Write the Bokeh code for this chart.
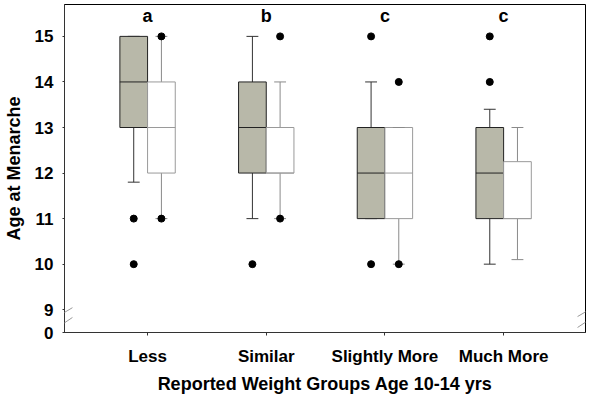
from bokeh.plotting import figure
from bokeh.models import Range1d, FixedTicker, Arrow, ColumnDataSource
from bokeh.core.properties import value
from bokeh.embed import file_html
from bokeh.resources import INLINE

# ---- data ----
groups = ["Less", "Similar", "Slightly More", "Much More"]
letters = ["a", "b", "c", "c"]

# grey (left) boxes
g_q1 = [13, 12, 11, 11]
g_med = [14, 13, 12, 12]
g_q3 = [15, 14, 13, 13]
g_lo = [11.8, 11, 11, 10]
g_hi = [15, 15, 14, 13.4]
g_out_group = [0, 0, 1, 2, 2, 3, 3]
g_out_val = [11, 10, 10, 15, 10, 15, 14]

# white (right) boxes
w_q1 = [12, 12, 11, 11]
w_med = [13, 12, 12, 11]
w_q3 = [14, 13, 13, 12.25]
w_lo = [11, 11, 10, 10.1]
w_hi = [15, 14, 13, 13]
w_out_group = [0, 0, 1, 1, 2, 2]
w_out_val = [15, 11, 15, 11, 14, 10]

ytick_values = [8.5, 9, 10, 11, 12, 13, 14, 15]
ytick_labels = ["0", "9", "10", "11", "12", "13", "14", "15"]

FONT = "Liberation Sans"
BOX_W = 0.2333
OFF = BOX_W / 2
CAP = 0.1

p = figure(width=588, height=396, output_backend="svg", toolbar_location=None,
           x_range=Range1d(0.3, 4.69), y_range=Range1d(8.5, 15.70),
           min_border_left=59, min_border_right=3, min_border_top=4, min_border_bottom=61)
p.grid.visible = False
p.outline_line_color = "black"
p.outline_line_width = 1
p.background_fill_color = "white"

xs = [i + 1 for i in range(len(groups))]


def draw(xc, q1, med, q3, lo, hi, ogrp, oval, fill, line, wline):
    src = ColumnDataSource(dict(x=xc, q1=q1, med=med, q3=q3, lo=lo, hi=hi,
                                l=[x - OFF for x in xc], r=[x + OFF for x in xc],
                                cl=[x - CAP / 2 for x in xc], cr=[x + CAP / 2 for x in xc]))
    # whiskers
    p.segment(x0="x", y0="q3", x1="x", y1="hi", source=src, line_color=wline, line_width=1)
    p.segment(x0="x", y0="q1", x1="x", y1="lo", source=src, line_color=wline, line_width=1)
    # box
    p.quad(left="l", right="r", bottom="q1", top="q3", source=src,
           fill_color=fill, line_color=line, line_width=1)
    # median
    p.segment(x0="l", y0="med", x1="r", y1="med", source=src, line_color=line, line_width=1)
    # caps
    p.segment(x0="cl", y0="hi", x1="cr", y1="hi", source=src, line_color=wline, line_width=1)
    p.segment(x0="cl", y0="lo", x1="cr", y1="lo", source=src, line_color=wline, line_width=1)
    # outliers
    p.scatter(x=[xc[g] for g in ogrp], y=oval, size=7, color="black")


draw([x - OFF for x in xs], g_q1, g_med, g_q3, g_lo, g_hi, g_out_group, g_out_val,
     "#b8b8a9", "#222222", "#333333")
draw([x + OFF for x in xs], w_q1, w_med, w_q3, w_lo, w_hi, w_out_group, w_out_val,
     "white", "#9a9a9a", "#8a8a8a")

# significance letters
p.text(x=xs, y=[15.44] * len(xs), text=letters, text_align="center", text_baseline="middle",
       text_font=value(FONT), text_font_style="bold", text_font_size="18px", text_color="black")

# axes
p.xaxis.ticker = FixedTicker(ticks=xs)
p.xaxis.major_label_overrides = {x: g for x, g in zip(xs, groups)}
p.yaxis.ticker = FixedTicker(ticks=ytick_values)
p.yaxis.major_label_overrides = {v: t for v, t in zip(ytick_values, ytick_labels)}

for ax in (p.xaxis[0], p.yaxis[0]):
    ax.axis_line_color = "#333333"
    ax.major_tick_line_color = "#333333"
    ax.minor_tick_line_color = None
    ax.major_tick_in = 0
    ax.major_label_text_font = FONT
    ax.major_label_text_font_style = "bold"
    ax.major_label_text_font_size = "17px"
    ax.major_label_text_color = "black"
    ax.axis_label_text_font = FONT
    ax.axis_label_text_font_style = "bold"
    ax.axis_label_text_font_size = "18px"
    ax.axis_label_text_color = "black"

p.xaxis.major_tick_out = 3
p.xaxis.major_label_standoff = 11
p.xaxis.axis_label = "Reported Weight Groups Age 10-14 yrs"
p.xaxis.axis_label_standoff = 5
p.yaxis.major_tick_out = 2
p.yaxis.major_label_standoff = 9
p.yaxis.axis_label = "Age at Menarche"
p.yaxis.axis_label_standoff = 8

# axis break marks
for (xa, xb) in ((0.2417, 0.367), (4.623, 4.75)):
    for (ya, yb) in ((8.85, 9.045), (8.61, 8.83)):
        p.add_layout(Arrow(end=None, x_start=xa, y_start=ya, x_end=xb, y_end=yb,
                           line_color="#999999", line_width=1))

html = file_html(p, INLINE)
open("out.html", "w").write(html)
